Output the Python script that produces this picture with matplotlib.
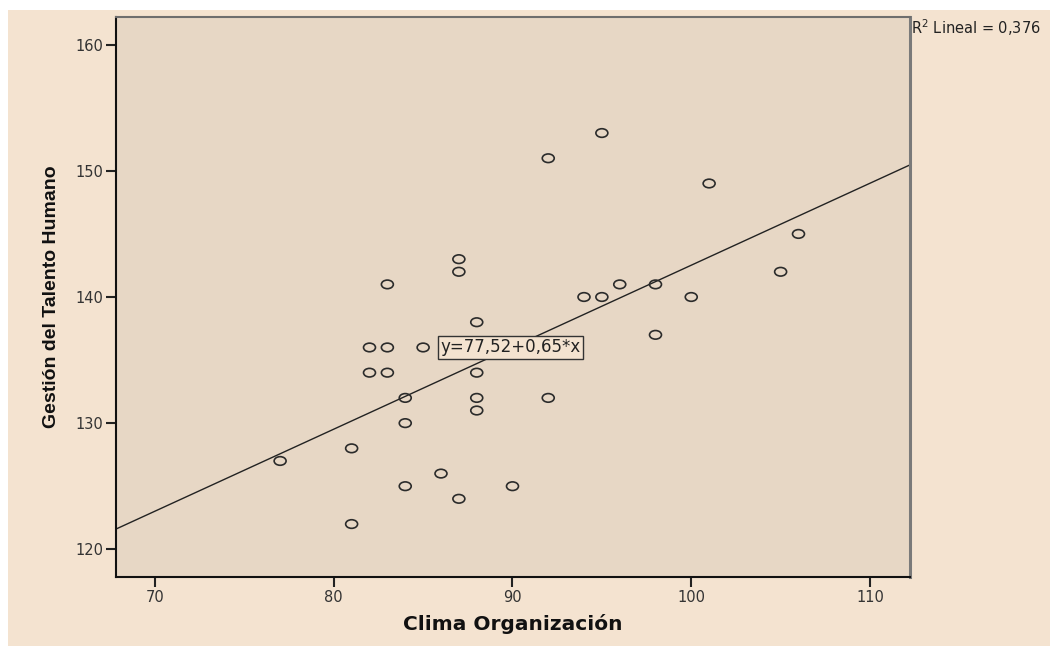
import matplotlib.pyplot as plt
import matplotlib.patches as mpatches
from matplotlib.path import Path
from matplotlib.transforms import Affine2D
import numpy as np

# Clima Organización (x) vs Gestión del Talento Humano (y)
clima = [77, 81, 81, 82, 82, 83, 83, 83, 84, 84, 84, 85, 86, 87, 87, 87, 88,
         88, 88, 88, 90, 92, 92, 94, 95, 95, 96, 98, 98, 100, 101, 105, 106]
gestion = [127, 128, 122, 136, 134, 141, 136, 134, 132, 130, 125, 136, 126,
           143, 142, 124, 138, 134, 132, 131, 125, 151, 132, 140, 153, 140,
           141, 141, 137, 140, 149, 142, 145]

intercept = 77.52
slope = 0.65
r2 = 0.376

x_ticks = [70, 80, 90, 100, 110]
y_ticks = [120, 130, 140, 150, 160]

plt.rcParams["font.family"] = ["DejaVu Sans"]

fig = plt.figure(figsize=(10.5, 6.46), dpi=100)
fig.patch.set_facecolor("white")
# beige page background, with a thin white margin top/left
fig.patches.append(mpatches.Rectangle((8 / 1050, 0), 1, 1 - 10 / 646,
                                      transform=fig.transFigure,
                                      facecolor="#F4E3D0", edgecolor="none",
                                      zorder=-10))

ax = fig.add_axes([0.1105, 0.1068, 0.7562, 0.8669])
ax.set_facecolor("#E7D7C5")

# SPSS draws slightly flattened circles
oval = Path.unit_circle().transformed(Affine2D().scale(1, 0.72))
ax.scatter(clima, gestion, s=74, marker=oval, facecolors="none",
           edgecolors="#2b2b2b", linewidths=1.2, zorder=3)

xmin, xmax = 67.82, 112.24
xs = np.array([xmin, xmax])
ax.plot(xs, intercept + slope * xs, color="#222222", linewidth=1.0, zorder=2)

ax.set_xlim(xmin, xmax)
ax.set_ylim(117.8, 162.2)
ax.set_xticks(x_ticks)
ax.set_yticks(y_ticks)
ax.tick_params(direction="out", length=7, width=1.5, colors="#222222",
               labelsize=10.5, labelcolor="#333333", pad=2)

for side in ["left", "bottom"]:
    ax.spines[side].set_color("#111111")
    ax.spines[side].set_linewidth(1.5)
ax.spines["top"].set_color("#6e6e6e")
ax.spines["top"].set_linewidth(1.5)
ax.spines["right"].set_color("#7a7a7a")
ax.spines["right"].set_linewidth(2.2)

ax.set_xlabel("Clima Organización", fontsize=14.5, fontweight="bold",
              labelpad=7, color="#111111")
ax.set_ylabel("Gestión del Talento Humano", fontsize=14, fontweight="bold",
              labelpad=11, color="#111111",
              family=["Liberation Sans Narrow", "Liberation Sans", "DejaVu Sans"])

ax.text(85.95, 136, "y=77,52+0,65*x", fontsize=12, color="#222222",
        va="center", ha="left", zorder=4,
        bbox=dict(boxstyle="square,pad=0.15", facecolor="#F4E3D0",
                  edgecolor="#333333", linewidth=1.0))

fig.text(911 / 1050, 1 - 34 / 646, "R$^2$ Lineal = 0,376", fontsize=10.5,
         color="#222222", ha="left", va="baseline")

fig.savefig("out.png", dpi=100, facecolor=fig.get_facecolor())
